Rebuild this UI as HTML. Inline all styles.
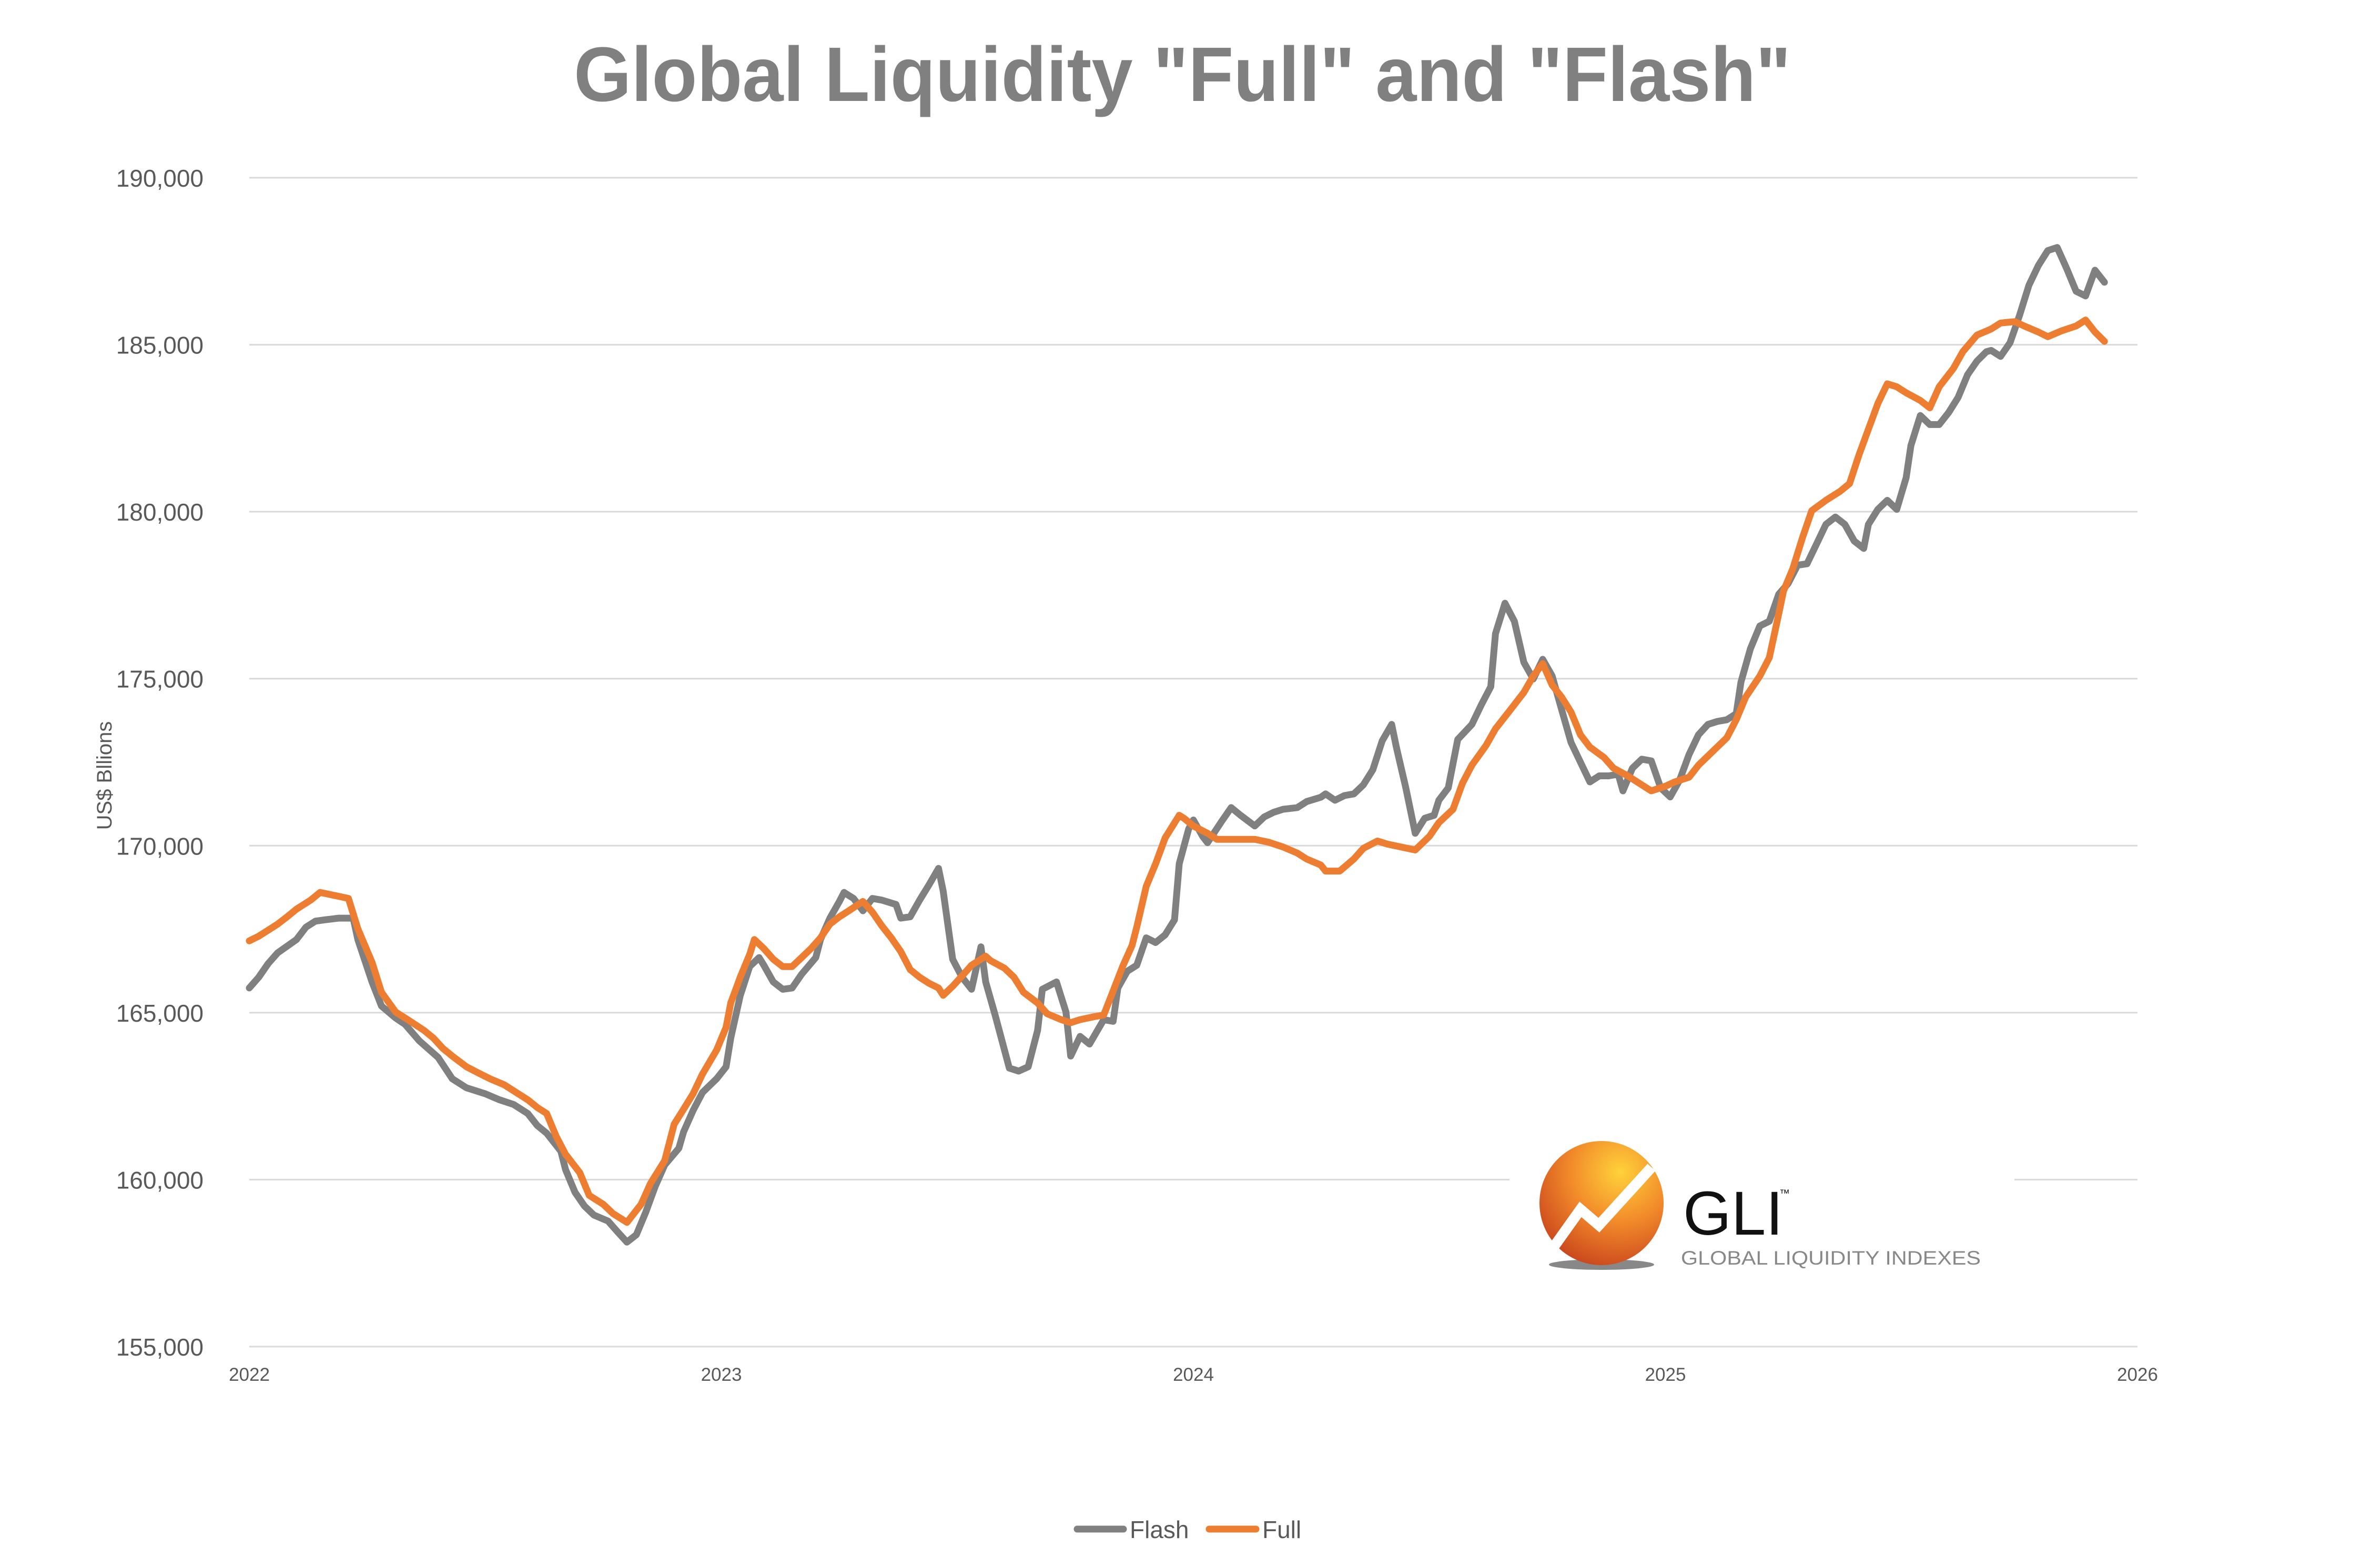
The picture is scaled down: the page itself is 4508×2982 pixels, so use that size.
<!DOCTYPE html>
<html><head><meta charset="utf-8"><style>
html,body{margin:0;padding:0;background:#fff;}
svg{display:block;font-family:"Liberation Sans",sans-serif;}
</style></head><body>
<svg id="chart" width="4508" height="2982" viewBox="0 0 4508 2982" xmlns="http://www.w3.org/2000/svg">
<rect width="4508" height="2982" fill="#fff"/>
<text x="2248" y="192" text-anchor="middle" font-size="147" font-weight="bold" fill="#808080" textLength="2314" lengthAdjust="spacingAndGlyphs">Global Liquidity "Full" and "Flash"</text>
<g id="grid"></g>
<g id="yticks"></g>
<g id="xticks"></g>
<text transform="translate(212,1475) rotate(-90)" text-anchor="middle" font-size="40" fill="#595959">US$ Bllions</text>
<g id="logo">
<rect x="2870" y="2150" width="960" height="300" fill="#fff"/>
<defs>
<radialGradient id="lg" cx="0.65" cy="0.25" r="0.9">
<stop offset="0" stop-color="#ffd23a"/><stop offset="0.45" stop-color="#f28a2a"/><stop offset="1" stop-color="#c0361a"/>
</radialGradient>
</defs>
<ellipse cx="3045" cy="2405" rx="100" ry="10" fill="#888"/>
<circle cx="3045" cy="2288" r="118" fill="url(#lg)"/>
<polyline points="2948,2380 3005,2300 3040,2330 3140,2220" fill="none" stroke="#fff" stroke-width="20"/>
<text x="3200" y="2348" font-size="118" fill="#111">GLI</text>
<text x="3383" y="2276" font-size="20" fill="#111">™</text>
<text x="3196" y="2405" font-size="37" fill="#888" textLength="570" lengthAdjust="spacingAndGlyphs">GLOBAL LIQUIDITY INDEXES</text>
</g>
<g id="series"></g>
<g id="legend">
<line x1="2048" y1="2908" x2="2136" y2="2908" stroke="#808080" stroke-width="13" stroke-linecap="round"/>
<text x="2148" y="2925" font-size="46" fill="#595959">Flash</text>
<line x1="2299" y1="2908" x2="2388" y2="2908" stroke="#ED7D31" stroke-width="13" stroke-linecap="round"/>
<text x="2400" y="2925" font-size="46" fill="#595959">Full</text>
</g>
</svg>
<script>
const yTicks = [155000,160000,165000,170000,175000,180000,185000,190000];
const xTickLabels = [2022,2023,2024,2025,2026];
const flashDates = [2022.00,2022.02,2022.04,2022.06,2022.10,2022.12,2022.14,2022.16,2022.19,2022.22,2022.23,2022.26,2022.28,2022.31,2022.33,2022.36,2022.40,2022.43,2022.46,2022.50,2022.53,2022.56,2022.59,2022.61,2022.63,2022.66,2022.67,2022.69,2022.71,2022.73,2022.76,2022.78,2022.80,2022.82,2022.84,2022.86,2022.88,2022.91,2022.92,2022.94,2022.96,2022.99,2023.01,2023.02,2023.04,2023.06,2023.08,2023.09,2023.11,2023.13,2023.15,2023.17,2023.20,2023.21,2023.23,2023.25,2023.26,2023.28,2023.30,2023.32,2023.34,2023.37,2023.38,2023.40,2023.42,2023.44,2023.46,2023.47,2023.49,2023.51,2023.53,2023.55,2023.56,2023.58,2023.61,2023.63,2023.65,2023.67,2023.68,2023.71,2023.73,2023.74,2023.76,2023.78,2023.81,2023.83,2023.84,2023.86,2023.88,2023.90,2023.92,2023.94,2023.96,2023.97,2023.99,2024.00,2024.02,2024.03,2024.06,2024.08,2024.10,2024.13,2024.15,2024.17,2024.19,2024.22,2024.24,2024.27,2024.28,2024.30,2024.32,2024.34,2024.36,2024.38,2024.40,2024.42,2024.43,2024.45,2024.47,2024.49,2024.51,2024.52,2024.54,2024.56,2024.59,2024.61,2024.63,2024.64,2024.66,2024.68,2024.70,2024.72,2024.74,2024.76,2024.78,2024.80,2024.82,2024.84,2024.86,2024.88,2024.90,2024.91,2024.93,2024.95,2024.97,2024.99,2025.01,2025.03,2025.05,2025.07,2025.09,2025.11,2025.13,2025.15,2025.16,2025.18,2025.20,2025.22,2025.24,2025.26,2025.28,2025.30,2025.32,2025.34,2025.36,2025.38,2025.40,2025.42,2025.43,2025.45,2025.47,2025.49,2025.51,2025.52,2025.54,2025.56,2025.58,2025.60,2025.62,2025.64,2025.66,2025.68,2025.69,2025.71,2025.73,2025.75,2025.77,2025.79,2025.81,2025.83,2025.85,2025.87,2025.89,2025.91,2025.93];
const flashValues = [165.74,166.06,166.47,166.79,167.19,167.56,167.74,167.78,167.83,167.83,167.19,165.92,165.20,164.84,164.65,164.16,163.66,163.02,162.75,162.57,162.39,162.25,161.98,161.62,161.39,160.85,160.30,159.62,159.21,158.94,158.76,158.44,158.13,158.35,159.03,159.80,160.44,160.94,161.43,162.07,162.61,163.02,163.38,164.24,165.51,166.38,166.65,166.42,165.92,165.70,165.74,166.15,166.65,167.19,167.83,168.33,168.60,168.42,168.05,168.42,168.37,168.24,167.83,167.87,168.37,168.83,169.32,168.64,166.60,166.06,165.70,166.97,165.92,164.93,163.34,163.25,163.38,164.47,165.70,165.92,165.02,163.70,164.29,164.06,164.79,164.74,165.74,166.24,166.42,167.24,167.10,167.33,167.78,169.46,170.50,170.77,170.27,170.09,170.73,171.14,170.91,170.59,170.86,171.00,171.09,171.14,171.32,171.45,171.55,171.36,171.50,171.55,171.82,172.27,173.14,173.63,172.95,171.73,170.37,170.82,170.91,171.36,171.73,173.18,173.63,174.22,174.76,176.35,177.26,176.72,175.49,174.99,175.58,175.08,174.08,173.09,172.50,171.91,172.09,172.09,172.14,171.64,172.32,172.59,172.54,171.73,171.46,171.96,172.73,173.32,173.63,173.72,173.77,173.95,174.90,175.90,176.58,176.72,177.53,177.85,178.40,178.44,179.03,179.62,179.84,179.62,179.12,178.90,179.62,180.07,180.34,180.07,181.02,181.98,182.88,182.61,182.61,182.97,183.42,184.10,184.51,184.79,184.83,184.65,185.06,185.87,186.78,187.37,187.82,187.91,187.28,186.60,186.46,187.23,186.87];
const fullDates = [2022.00,2022.02,2022.04,2022.06,2022.08,2022.10,2022.13,2022.15,2022.18,2022.21,2022.23,2022.26,2022.28,2022.31,2022.34,2022.37,2022.39,2022.41,2022.43,2022.46,2022.49,2022.51,2022.54,2022.56,2022.59,2022.61,2022.63,2022.65,2022.67,2022.70,2022.72,2022.75,2022.77,2022.80,2022.83,2022.85,2022.88,2022.90,2022.92,2022.94,2022.96,2022.99,2023.01,2023.02,2023.04,2023.06,2023.07,2023.09,2023.11,2023.13,2023.15,2023.17,2023.19,2023.21,2023.23,2023.25,2023.27,2023.29,2023.30,2023.32,2023.34,2023.36,2023.38,2023.40,2023.42,2023.44,2023.46,2023.47,2023.49,2023.51,2023.53,2023.56,2023.57,2023.60,2023.62,2023.64,2023.67,2023.69,2023.72,2023.74,2023.76,2023.79,2023.81,2023.83,2023.85,2023.87,2023.88,2023.90,2023.92,2023.94,2023.97,2023.98,2024.00,2024.03,2024.05,2024.08,2024.10,2024.13,2024.16,2024.19,2024.22,2024.24,2024.27,2024.28,2024.31,2024.34,2024.36,2024.39,2024.41,2024.44,2024.47,2024.50,2024.52,2024.55,2024.57,2024.59,2024.62,2024.64,2024.67,2024.70,2024.72,2024.74,2024.76,2024.78,2024.80,2024.82,2024.84,2024.87,2024.89,2024.92,2024.95,2024.97,2025.00,2025.02,2025.05,2025.07,2025.10,2025.13,2025.15,2025.17,2025.20,2025.22,2025.24,2025.25,2025.27,2025.29,2025.31,2025.34,2025.37,2025.39,2025.41,2025.43,2025.45,2025.47,2025.49,2025.51,2025.54,2025.56,2025.58,2025.61,2025.63,2025.66,2025.69,2025.71,2025.74,2025.76,2025.79,2025.81,2025.84,2025.87,2025.89,2025.91,2025.93];
const fullValues = [167.15,167.29,167.47,167.65,167.87,168.10,168.37,168.60,168.51,168.42,167.51,166.51,165.61,165.02,164.75,164.47,164.24,163.93,163.70,163.38,163.16,163.02,162.84,162.66,162.39,162.16,161.98,161.30,160.76,160.21,159.53,159.26,158.99,158.72,159.26,159.89,160.57,161.66,162.11,162.57,163.16,163.88,164.56,165.29,166.06,166.74,167.19,166.92,166.60,166.38,166.38,166.65,166.92,167.24,167.65,167.87,168.05,168.24,168.33,168.01,167.60,167.24,166.83,166.29,166.06,165.88,165.74,165.52,165.79,166.10,166.42,166.69,166.56,166.33,166.06,165.61,165.29,164.97,164.79,164.70,164.79,164.88,164.93,165.65,166.38,167.01,167.56,168.78,169.46,170.23,170.91,170.82,170.59,170.37,170.19,170.19,170.19,170.19,170.10,169.96,169.78,169.60,169.42,169.24,169.24,169.60,169.92,170.14,170.05,169.96,169.87,170.28,170.69,171.09,171.87,172.41,173.00,173.50,174.04,174.59,175.08,175.45,174.81,174.45,174.00,173.32,172.95,172.64,172.32,172.09,171.82,171.64,171.78,171.91,172.05,172.41,172.82,173.23,173.77,174.45,175.08,175.63,176.94,177.62,178.30,179.21,180.03,180.34,180.61,180.84,181.70,182.47,183.24,183.83,183.74,183.56,183.33,183.11,183.74,184.29,184.79,185.29,185.47,185.65,185.69,185.56,185.38,185.24,185.42,185.56,185.74,185.38,185.10];

const NS = "http://www.w3.org/2000/svg";
const X0 = 474, X1 = 4064, Y0 = 2561, Y1 = 338;
function xScale(t){ return X0 + (t - 2022) / 4 * (X1 - X0); }
function yScale(v){ return Y0 - (v - 155000) / 35000 * (Y0 - Y1); }
function mk(tag, attrs){ const e = document.createElementNS(NS, tag); for (const k in attrs) e.setAttribute(k, attrs[k]); return e; }

const grid = document.getElementById('grid');
const yt = document.getElementById('yticks');
yTicks.forEach(v => {
  const y = yScale(v);
  const l = mk('line', {x1: X0, x2: X1, y1: y, y2: y, stroke: '#d9d9d9', 'stroke-width': 3});
  
  
  grid.appendChild(l);
  const t = mk('text', {x: 387, y: y + 17, 'text-anchor': 'end', 'font-size': 46, fill: '#595959'});
  
  
  t.textContent = v.toLocaleString('en-US');
  yt.appendChild(t);
});
const xt = document.getElementById('xticks');
xTickLabels.forEach(yr => {
  const t = mk('text', {x: xScale(yr), y: 2626, 'text-anchor': 'middle', 'font-size': 35, fill: '#595959'});
  
  
  t.textContent = yr;
  xt.appendChild(t);
});
const ser = document.getElementById('series');
function drawLine(dates, vals, color, name){
  const pts = dates.map((d, i) => xScale(d).toFixed(1) + ',' + yScale(vals[i] * 1000).toFixed(1)).join(' ');
  const p = mk('polyline', {points: pts, fill: 'none', stroke: color, 'stroke-width': 13, 'stroke-linejoin': 'round', 'stroke-linecap': 'round'});
  
  
  ser.appendChild(p);
}
drawLine(flashDates, flashValues, '#808080', 'flash-line');
drawLine(fullDates, fullValues, '#ED7D31', 'full-line');
</script>
</body></html>
